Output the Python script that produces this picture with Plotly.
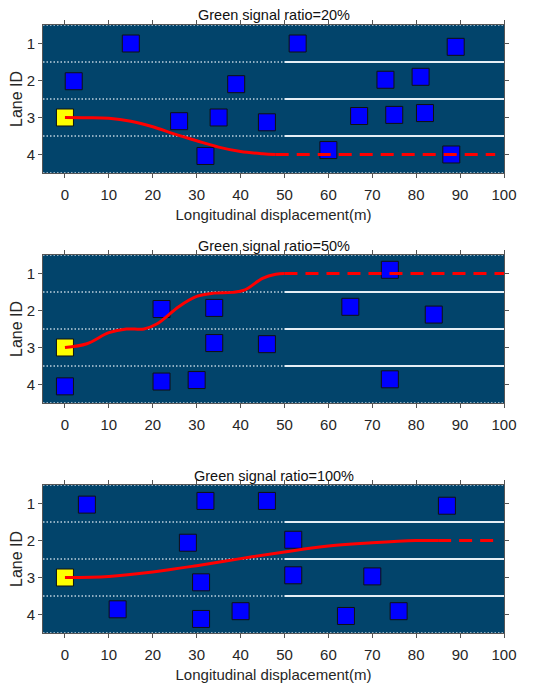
import plotly.graph_objects as go

# ---- data ----
titles = ["Green signal ratio=20%", "Green signal ratio=50%", "Green signal ratio=100%"]

# surrounding vehicles (blue squares)
veh_x_20 = [15, 53, 89, 2, 39, 73, 81, 26, 35, 46, 67, 75, 82, 32, 60, 88]
veh_y_20 = [1.0, 1.0, 1.09, 2.02, 2.1, 1.98, 1.9, 3.1, 3.0, 3.13, 2.96, 2.93, 2.88, 4.04, 3.88, 4.0]
veh_x_50 = [74, 22, 34, 65, 84, 34, 46, 0, 22, 30, 74]
veh_y_50 = [0.9, 1.96, 1.93, 1.9, 2.11, 2.88, 2.91, 4.05, 3.92, 3.88, 3.86]
veh_x_100 = [5, 32, 46, 87, 28, 52, 31, 52, 70, 12, 31, 40, 64, 76]
veh_y_100 = [1.03, 0.93, 0.93, 1.06, 2.06, 1.98, 3.13, 2.94, 2.97, 3.86, 4.12, 3.91, 4.04, 3.91]

# ego vehicle (yellow square)
ego_x = [0]
ego_y = [3]

# planned trajectory (solid) and continuation (dashed)
traj_x_20 = [0, 5, 10, 15, 20, 25, 30, 35, 40, 45, 48]
traj_y_20 = [3.0, 3.005, 3.02, 3.1, 3.25, 3.45, 3.63, 3.8, 3.92, 3.98, 4.0]
dash_x_20 = [48, 98]
dash_y_20 = [4, 4]

traj_x_50 = [0, 5, 10, 14, 18, 21, 26, 30, 34, 38, 41, 45, 48, 50]
traj_y_50 = [3.0, 2.9, 2.6, 2.5, 2.5, 2.36, 1.89, 1.62, 1.53, 1.51, 1.44, 1.13, 1.02, 1.0]
dash_x_50 = [50, 100]
dash_y_50 = [1, 1]

traj_x_100 = [0, 10, 20, 30, 40, 50, 60, 70, 80, 85]
traj_y_100 = [3.0, 2.97, 2.85, 2.68, 2.49, 2.31, 2.15, 2.06, 2.0, 2.0]
dash_x_100 = [85, 99]
dash_y_100 = [2, 2]

# lane markings
road_edges = [0.5, 4.5]
lane_bounds = [1.5, 2.5, 3.5]
dotted_span = [-5, 50]
solid_span = [50, 100]
full_span = [-5, 100]

panels = [
    (veh_x_20, veh_y_20, traj_x_20, traj_y_20, dash_x_20, dash_y_20),
    (veh_x_50, veh_y_50, traj_x_50, traj_y_50, dash_x_50, dash_y_50),
    (veh_x_100, veh_y_100, traj_x_100, traj_y_100, dash_x_100, dash_y_100),
]

# ---- figure ----
BG = "#02446B"
FONT = "Liberation Sans, Arial, sans-serif"
domains = [[0.7566, 1.0], [0.3783, 0.6217], [0.0, 0.2434]]

fig = go.Figure()

for i, (vx, vy, tx, ty, dx, dy) in enumerate(panels):
    n = "" if i == 0 else str(i + 1)
    xa, ya = "x" + n, "y" + n

    # dotted road edges across the whole road
    for e in road_edges:
        fig.add_trace(go.Scatter(x=full_span, y=[e, e], mode="lines", xaxis=xa, yaxis=ya,
                                 line=dict(color="rgba(225,235,245,0.85)", width=1.3, dash="1.5px,2px"),
                                 hoverinfo="skip", showlegend=False))
    # lane boundaries: dotted before 50 m, solid after
    for b in lane_bounds:
        fig.add_trace(go.Scatter(x=dotted_span, y=[b, b], mode="lines", xaxis=xa, yaxis=ya,
                                 line=dict(color="rgba(225,235,245,0.85)", width=1.3, dash="1.5px,2px"),
                                 hoverinfo="skip", showlegend=False))
        fig.add_trace(go.Scatter(x=solid_span, y=[b, b], mode="lines", xaxis=xa, yaxis=ya,
                                 line=dict(color="#E6EEF5", width=2.2),
                                 hoverinfo="skip", showlegend=False))

    fig.add_trace(go.Scatter(x=vx, y=vy, mode="markers", xaxis=xa, yaxis=ya,
                             marker=dict(symbol="square", size=17, color="#0000FF",
                                         line=dict(color="#111111", width=1)),
                             showlegend=False))
    fig.add_trace(go.Scatter(x=ego_x, y=ego_y, mode="markers", xaxis=xa, yaxis=ya,
                             marker=dict(symbol="square", size=17, color="#FFFF00",
                                         line=dict(color="#111111", width=1)),
                             showlegend=False))
    fig.add_trace(go.Scatter(x=tx, y=ty, mode="lines", xaxis=xa, yaxis=ya,
                             line=dict(color="#FF0000", width=3, shape="spline"),
                             showlegend=False))
    fig.add_trace(go.Scatter(x=dx, y=dy, mode="lines", xaxis=xa, yaxis=ya,
                             line=dict(color="#FF0000", width=3, dash="13px,8px"),
                             showlegend=False))

    axis_common = dict(showline=True, linecolor="#555555", linewidth=1, mirror="ticks",
                       ticks="outside", ticklen=4, tickcolor="#555555", showgrid=False,
                       zeroline=False, automargin=False,
                       tickfont=dict(family=FONT, size=15, color="#262626"))
    fig.layout["xaxis" + n] = dict(axis_common, range=[-5, 100], tickvals=list(range(0, 101, 10)),
                                   anchor=ya, domain=[0, 1], ticklabelstandoff=4,
                                   title=dict(text="Longitudinal displacement(m)", standoff=7,
                                              font=dict(family=FONT, size=15, color="#262626")))
    fig.layout["yaxis" + n] = dict(axis_common, range=[4.5, 0.5], tickvals=[1, 2, 3, 4],
                                   anchor=xa, domain=domains[i],
                                   title=dict(text="Lane ID", standoff=11,
                                              font=dict(family=FONT, size=16, color="#262626")))
    fig.add_annotation(text=titles[i], xref="paper", yref="paper", x=0.5, y=domains[i][1],
                       xanchor="center", yanchor="bottom", yshift=-0.5, showarrow=False,
                       font=dict(family=FONT, size=14.5, color="#111111"))

# the middle panel has no x-axis title in the reference
fig.layout["xaxis2"].title.text = ""

# the page body adds an 8px offset, so the figure is 8px smaller and shifted
fig.update_layout(
    width=542, height=683,
    margin=dict(l=35, r=46, t=17, b=58),
    plot_bgcolor=BG, paper_bgcolor="white",
    font=dict(family=FONT),
)

fig.write_html("out.html")
